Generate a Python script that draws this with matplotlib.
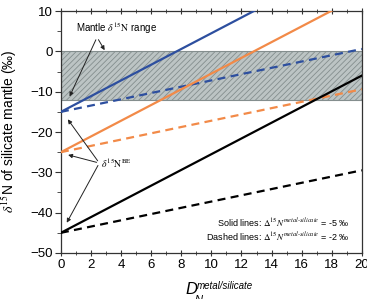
import numpy as np
import matplotlib
matplotlib.use("Agg")
import matplotlib.pyplot as plt
from matplotlib.ticker import MultipleLocator

plt.rcParams['font.family'] = ['Liberation Sans', 'DejaVu Sans']
plt.rcParams['mathtext.fontset'] = 'stix'
plt.rcParams['hatch.linewidth'] = 0.6

# D_N metal/silicate (x) and mantle d15N at both ends of each straight line
d_metal = [0, 20]
blue_solid = [-15, 24]
blue_dashed = [-15, 0.6]
orange_solid = [-25, 14]
orange_dashed = [-25, -9.4]
black_solid = [-45, -6]
black_dashed = [-45, -29.5]

mantle_range = [-12, 0]

blue = '#2d4f9f'
orange = '#f28a48'
lw = 1.6
dash = (3.6, 2.4)

fig = plt.figure(figsize=(3.67, 2.99), dpi=100)
ax = fig.add_axes([0.166, 0.154, 0.820, 0.809])

ax.axhspan(mantle_range[0], mantle_range[1], facecolor='#bcc4c4',
           edgecolor='#848e8e', hatch='//////', linewidth=0.8, zorder=1)

ax.plot(d_metal, blue_solid, color=blue, lw=lw, zorder=3)
ax.plot(d_metal, blue_dashed, color=blue, lw=lw, dashes=dash, zorder=3)
ax.plot(d_metal, orange_solid, color=orange, lw=lw, zorder=3)
ax.plot(d_metal, orange_dashed, color=orange, lw=lw, dashes=dash, zorder=3)
ax.plot(d_metal, black_solid, color='black', lw=lw, zorder=3)
ax.plot(d_metal, black_dashed, color='black', lw=lw, dashes=dash, zorder=3)

ax.set_xlim(0, 20)
ax.set_ylim(-50, 10)
ax.xaxis.set_major_locator(MultipleLocator(2))
ax.xaxis.set_minor_locator(MultipleLocator(1))
ax.yaxis.set_major_locator(MultipleLocator(10))
ax.yaxis.set_minor_locator(MultipleLocator(5))

for s in ax.spines.values():
    s.set_color('#333333')
    s.set_linewidth(0.9)

ax.tick_params(axis='x', which='both', direction='inout', top=True,
               labelsize=9.5, color='#333333', pad=2)
ax.tick_params(axis='x', which='major', length=5)
ax.tick_params(axis='x', which='minor', length=3)
ax.tick_params(axis='y', which='both', direction='out', right=False,
               labelsize=9.5, color='#333333', pad=2)
ax.tick_params(axis='y', which='major', length=4)
ax.tick_params(axis='y', which='minor', length=3)

ax.set_ylabel(r'$\delta^{15}$N of silicate mantle (‰)', fontsize=10)
ax.yaxis.set_label_coords(-0.138, 0.505)

# x label drawn piece by piece so the superscript sits like the original
fig.text(0.505, 0.008, 'D', fontsize=12, style='italic', ha='left', va='bottom')
fig.text(0.53, 0.012, 'N', fontsize=8, style='italic', ha='left', va='top')
fig.text(0.536, 0.045, 'metal/silicate', fontsize=7, style='italic',
         ha='left', va='center')

kw = dict(arrowstyle='-|>', color='#222222', lw=0.7, mutation_scale=6)
ax.text(1.0, 5.8, r'Mantle $\delta^{15}\mathrm{N}$ range', fontsize=7,
        ha='left', va='center', zorder=5)
ax.annotate('', xy=(0.5, -11.8), xytext=(2.4, 3.5), arrowprops=kw, zorder=5)
ax.annotate('', xy=(3.0, -0.3), xytext=(2.4, 3.5), arrowprops=kw, zorder=5)

ax.text(2.65, -27.7, r'$\delta^{15}\mathrm{N}^{\mathrm{BE}}$', fontsize=7,
        ha='left', va='center', zorder=5)
for tip in [(0.35, -16.3), (0.3, -25.5), (0.3, -43.1)]:
    ax.annotate('', xy=tip, xytext=(2.55, -27.7), arrowprops=kw, zorder=5)

ax.text(19.2, -42.6, r'Solid lines: $\mathit{\Delta}^{15}\mathit{N}^{\mathit{metal\text{-}silicate}}$ = -5 ‰',
        fontsize=6.5, ha='right', va='center', zorder=5)
ax.text(19.2, -46.1, r'Dashed lines: $\mathit{\Delta}^{15}\mathit{N}^{\mathit{metal\text{-}silicate}}$ = -2 ‰',
        fontsize=6.5, ha='right', va='center', zorder=5)

fig.savefig('out.png', dpi=100)
